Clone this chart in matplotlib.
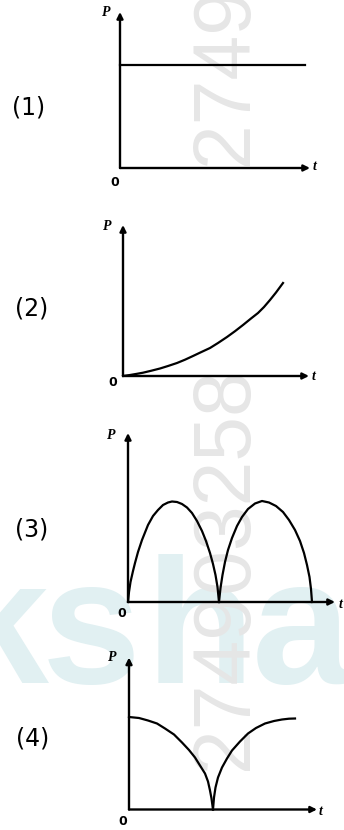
import matplotlib
matplotlib.use("Agg")
import matplotlib.pyplot as plt

W, H = 344, 830  # tamanho da figura em pixels

# Dados (t e P em unidades de pixel a partir da origem)
p1_t = [0, 185]
p1_P = [103, 103]

p2_t = [0, 7, 14, 20, 28, 37, 45, 54, 62, 70, 78, 87, 95, 104, 112, 120, 128, 135, 141, 147, 153, 160]
p2_P = [0, 1, 2.2, 3.3, 5.2, 7.5, 10, 13, 16.3, 20, 23.8, 28, 33, 39, 44.8, 51, 57.5, 63, 69, 76, 83.5, 93]

p3_t1 = [0, 1, 2.5, 5, 7, 10, 14, 20, 25, 30, 35, 40, 44, 49, 54, 59, 64, 69, 74, 78, 82, 85, 87.5, 89.5, 91]
p3_P1 = [0, 10, 20, 31, 39, 50, 62, 77, 86, 92, 97, 99.5, 100.5, 100, 98, 94.5, 89, 81, 71, 61, 49, 38, 27, 15, 0]
p3_t2 = [91, 92.5, 94.5, 97, 100, 104, 109, 114, 120, 127, 134, 141, 148, 155, 161, 167, 172, 176, 179, 181.5, 183, 184]
p3_P2 = [0, 14, 27, 40, 52, 64, 76, 85, 93, 98.5, 101, 99.5, 96, 90, 82, 72, 61, 49, 37, 25, 13, 0]

p4_t1 = [0, 10, 19, 28, 36, 45, 53, 60, 66, 71, 76, 79, 81, 82.5, 84]
p4_P1 = [92.5, 91.5, 89, 86, 81, 75, 67, 59.5, 52, 44, 36, 28, 19, 11, 0]
p4_t2 = [84, 85, 86.5, 89, 93, 98, 103, 111, 119, 127, 136, 145, 153, 160, 166]
p4_P2 = [0, 12, 22, 32, 42, 51, 59, 68, 76, 81.5, 86, 88.5, 90, 90.8, 91]

rotulos = ["(1)", "(2)", "(3)", "(4)"]


def fx(x):
    return x / W


def fy(y):
    return 1 - y / H


fig = plt.figure(figsize=(W / 100, H / 100), dpi=100)
fig.patch.set_facecolor("white")

# marca d'agua
for i, letra in enumerate("ksha"):
    xs = [-50, 42, 146, 252][i]
    fig.text(fx(xs), fy(683), letra, fontsize=128, fontweight="bold",
             family="Liberation Sans", color="#e1f0f2", ha="left", va="baseline",
             zorder=-2)
for xb, yb in [(247, 165), (247, 770)]:
    fig.text(fx(xb), fy(yb), "274903258", fontsize=58, family="Liberation Sans",
             color="#e6e6e6", rotation=90, rotation_mode="anchor",
             ha="left", va="baseline", zorder=-1)

# (origem x, origem y, comprimento t, comprimento P) em pixels
caixas = [(120, 168, 190, 156), (123, 376, 186, 151),
          (128, 602, 207, 169), (129, 809.5, 188, 152)]

curvas = [[(p1_t, p1_P)], [(p2_t, p2_P)],
          [(p3_t1, p3_P1), (p3_t2, p3_P2)],
          [(p4_t1, p4_P1), (p4_t2, p4_P2)]]

for (ox, oy, lt, lp), cs in zip(caixas, curvas):
    ax = fig.add_axes([fx(ox), fy(oy), lt / W, lp / H])
    ax.set_xlim(0, lt)
    ax.set_ylim(0, lp)
    ax.set_facecolor("none")
    for s in ax.spines.values():
        s.set_visible(False)
    ax.set_xticks([])
    ax.set_yticks([])
    for t, P in cs:
        ax.plot(t, P, color="black", lw=1.6, clip_on=False, solid_joinstyle="round")
    for ponta in [(1, 0), (0, 1)]:
        ax.annotate("", xy=ponta, xytext=(0, 0), xycoords="axes fraction",
                    arrowprops=dict(arrowstyle="-|>", color="black", lw=1.7,
                                    shrinkA=0, shrinkB=0, mutation_scale=9))

# letras dos eixos
pos_P = [(106, 13), (107, 226), (111, 435), (112, 657)]
pos_0 = [(115, 183), (113, 382), (122, 613), (123, 821)]
pos_t = [(315, 167), (314, 377), (341, 605), (321, 811)]
pos_lab = [(29, 107), (32, 308), (32, 530), (33, 738)]

for i in range(4):
    fig.text(fx(pos_P[i][0]), fy(pos_P[i][1]), "P", fontsize=10, family="Liberation Serif",
             fontweight="bold", style="italic", ha="center", va="center")
    fig.text(fx(pos_0[i][0]), fy(pos_0[i][1]), "0", fontsize=9, family="DejaVu Sans",
             fontweight="bold", ha="center", va="center")
    fig.text(fx(pos_t[i][0]), fy(pos_t[i][1]), "t", fontsize=10, family="Liberation Serif",
             fontweight="bold", style="italic", ha="center", va="center")
    fig.text(fx(pos_lab[i][0]), fy(pos_lab[i][1]), rotulos[i], fontsize=17,
             family="DejaVu Sans", ha="center", va="center")

fig.savefig("out.png", dpi=100)
